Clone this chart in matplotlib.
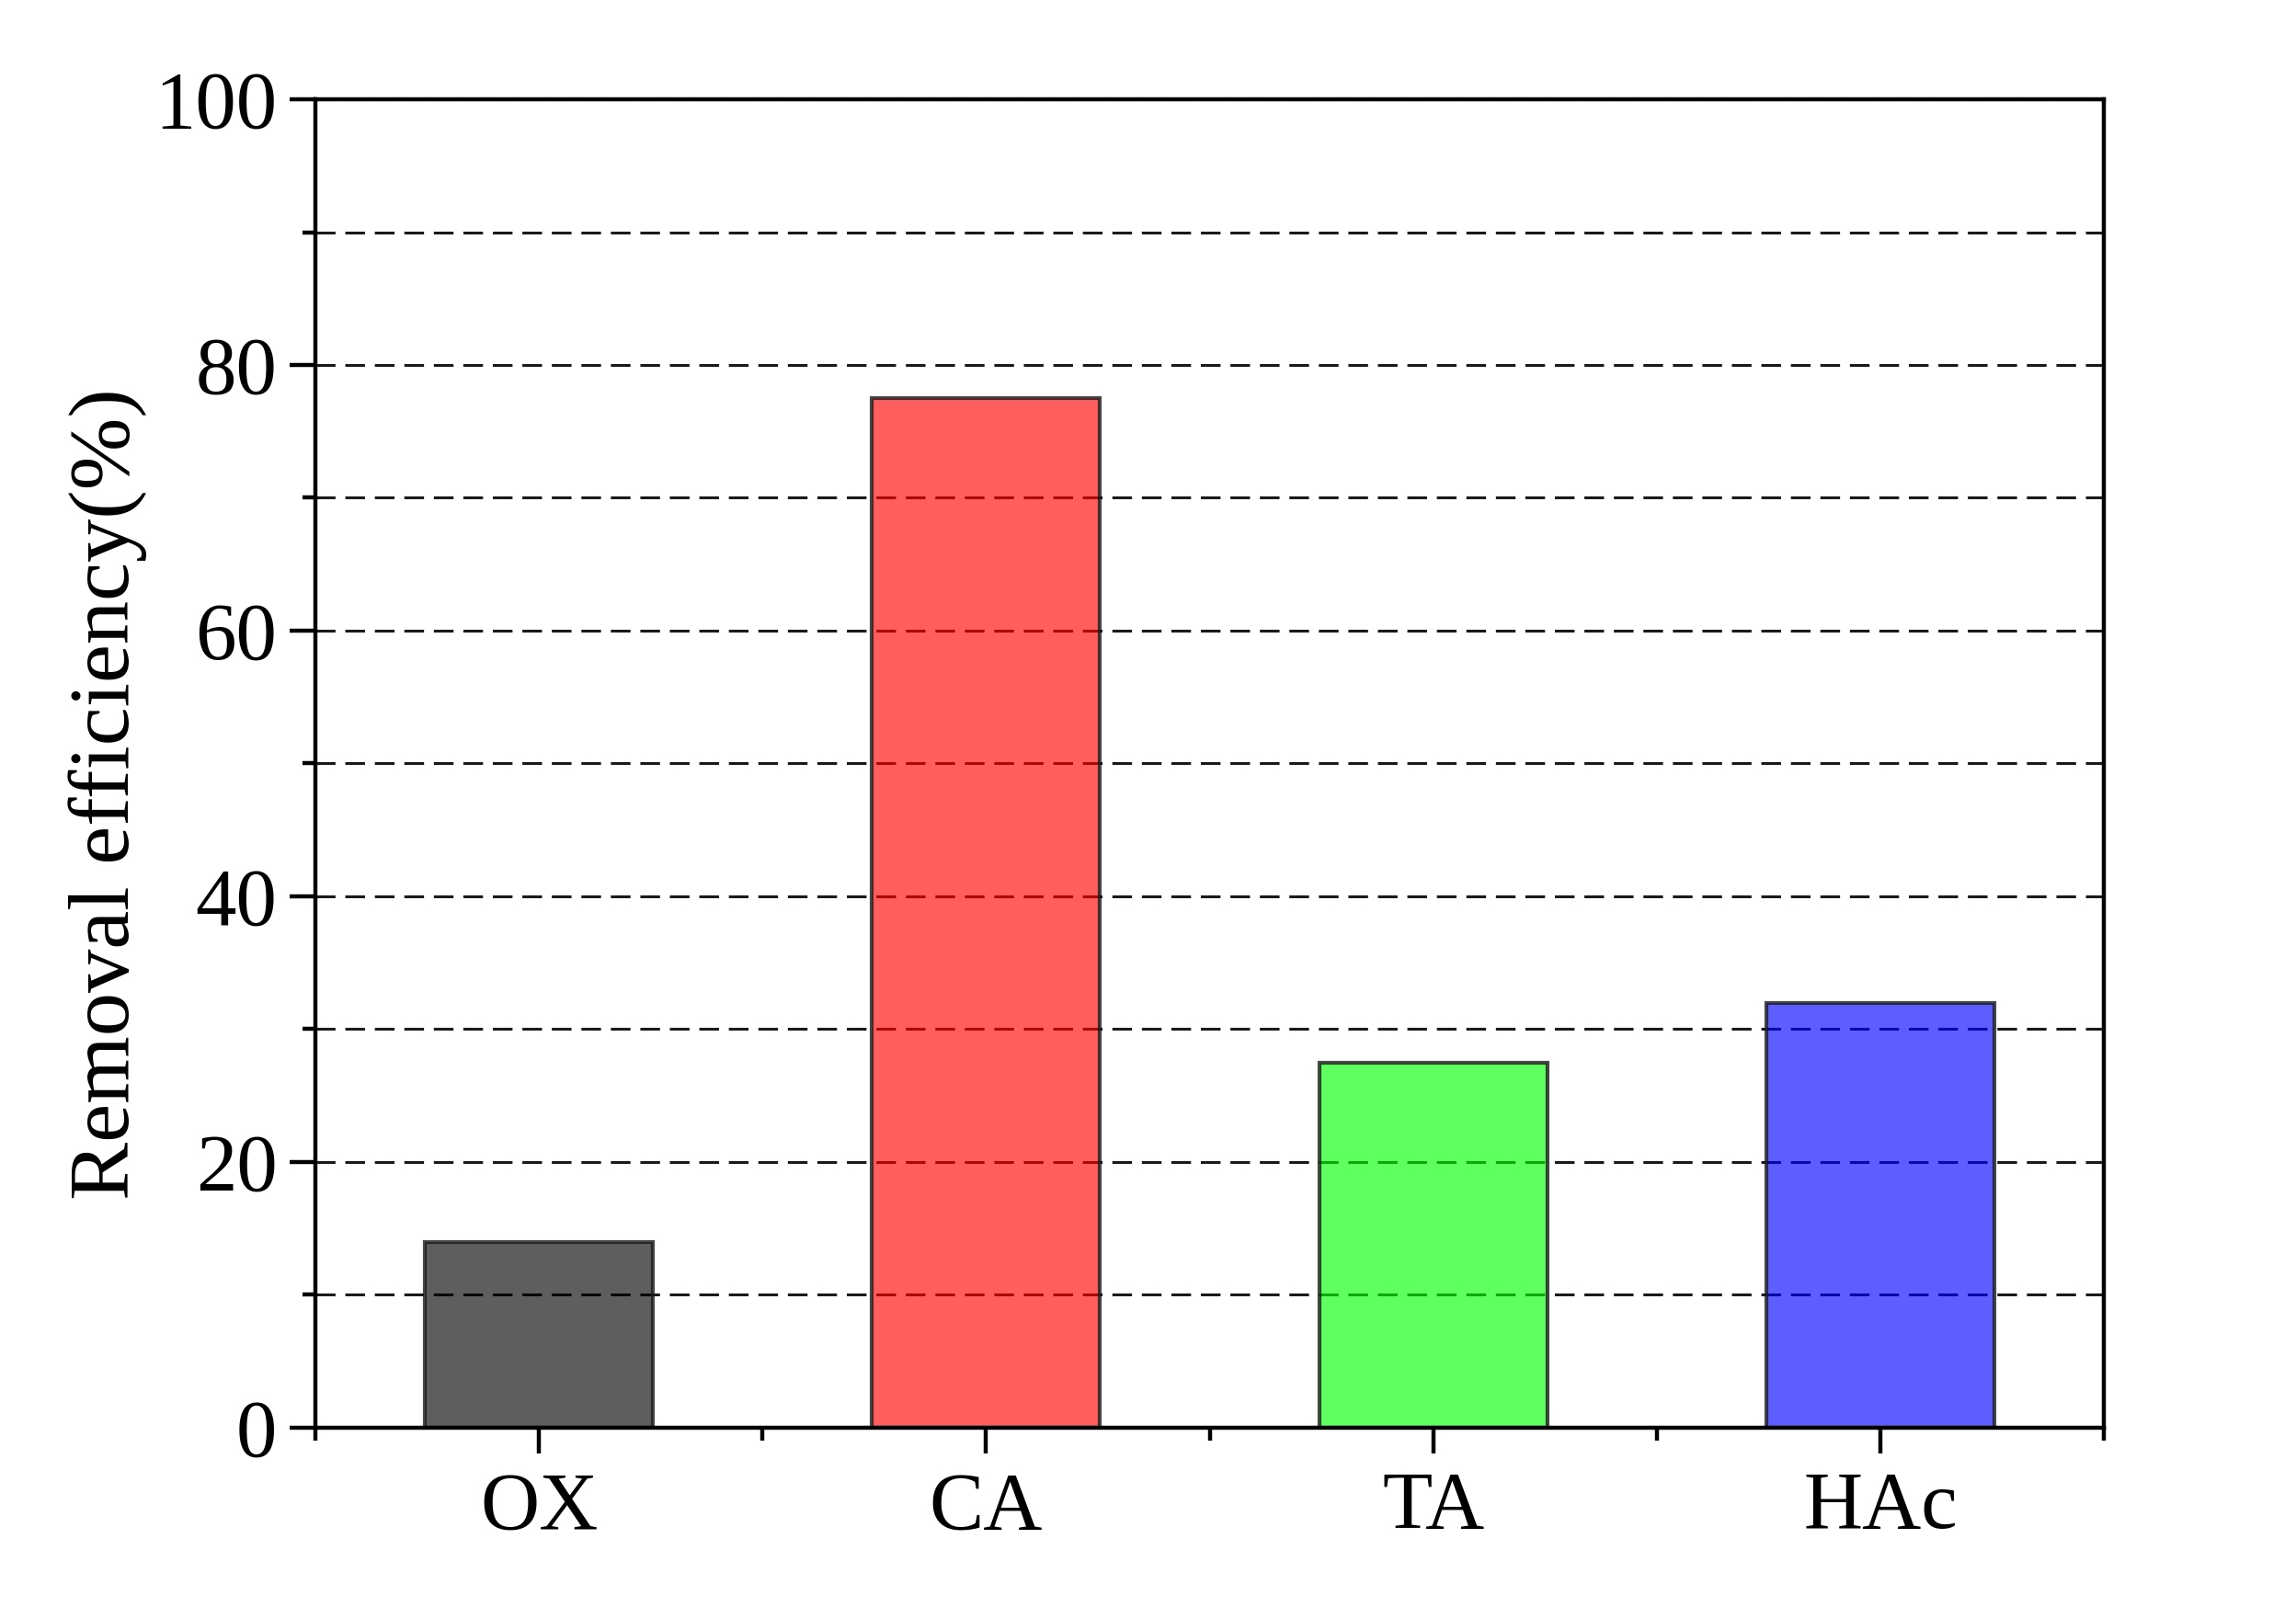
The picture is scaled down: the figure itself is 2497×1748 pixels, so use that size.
import matplotlib
matplotlib.use('Agg')
import matplotlib.pyplot as plt
from matplotlib.ticker import MultipleLocator, FixedLocator
from matplotlib.colors import to_rgba

# data
categories = ['OX', 'CA', 'TA', 'HAc']
removal = [14.0, 77.5, 27.5, 32.0]
bar_colors = ['#000000', '#ff0000', '#00ff00', '#0000ff']

plt.rcParams['font.family'] = ['Liberation Serif', 'DejaVu Serif']

fig = plt.figure(figsize=(24.97, 17.48), dpi=100)
ax = fig.add_axes([0.1374, 0.1116, 0.9163 - 0.1374, 0.9382 - 0.1116])

x = list(range(len(categories)))
# grid under the bars, bars semi transparent like the Origin export
ax.set_axisbelow(True)
ax.yaxis.grid(True, which='both', color='#1a1a1a', linewidth=2.2,
              linestyle=(0, (7, 3.5)))
for xi, v, c in zip(x, removal, bar_colors):
    ax.bar(xi, v, width=0.51, facecolor=to_rgba(c, 0.63),
           edgecolor=(0.1, 0.1, 0.1, 0.8), linewidth=3)

ax.set_xlim(-0.5, 3.5)
ax.set_ylim(0, 100)
ax.set_xticks(x)
ax.set_xticklabels(categories)
ax.xaxis.set_minor_locator(FixedLocator([-0.5, 0.5, 1.5, 2.5, 3.5]))
ax.yaxis.set_major_locator(MultipleLocator(20))
ax.yaxis.set_minor_locator(MultipleLocator(10))

ax.tick_params(axis='both', which='major', direction='out', length=20,
               width=3.2, labelsize=64, pad=10)
ax.tick_params(axis='both', which='minor', direction='out', length=10,
               width=3.2)
ax.tick_params(axis='x', which='major', pad=14)

for sp in ax.spines.values():
    sp.set_linewidth(3.2)

ax.set_ylabel('Removal efficiency(%)', fontsize=68)
ax.yaxis.set_label_coords(-0.094, 0.477)

fig.savefig('out.png', dpi=100)
